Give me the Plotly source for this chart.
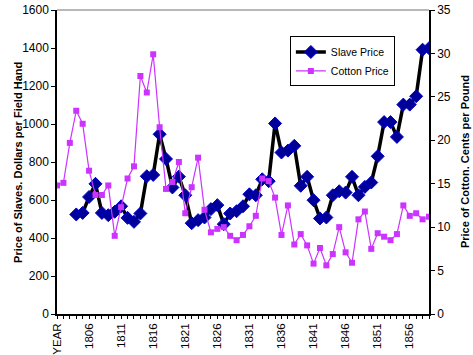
import plotly.graph_objects as go

categories = ["YEAR", "1802", "1803", "1804", "1805", "1806", "1807", "1808", "1809", "1810",
              "1811", "1812", "1813", "1814", "1815", "1816", "1817", "1818", "1819", "1820",
              "1821", "1822", "1823", "1824", "1825", "1826", "1827", "1828", "1829", "1830",
              "1831", "1832", "1833", "1834", "1835", "1836", "1837", "1838", "1839", "1840",
              "1841", "1842", "1843", "1844", "1845", "1846", "1847", "1848", "1849", "1850",
              "1851", "1852", "1853", "1854", "1855", "1856", "1857", "1858", "1859"]

slave_price = [None, None, None, 524, 532, 616, 685, 532, 520, 538,
               567, 506, 485, 529, 725, 732, 946, 816, 666, 723,
               625, 478, 494, 508, 552, 573, 473, 529, 541, 567,
               630, 625, 709, 699, 1003, 850, 860, 885, 675, 722,
               599, 503, 508, 625, 646, 639, 722, 625, 669, 692,
               830, 1010, 1010, 932, 1102, 1102, 1146, 1391, 1399]

cotton_price = [14.8, 15.1, 19.7, 23.4, 21.9, 16.5, 13.7, 13.7, 14.8, 9.0,
                12.3, 15.6, 17.0, 27.4, 25.5, 29.9, 21.5, 14.4, 15.2, 17.5,
                11.6, 14.6, 18.0, 12.0, 9.4, 9.8, 10.0, 9.0, 8.5, 9.1,
                10.1, 11.3, 15.6, 15.3, 13.4, 9.1, 12.5, 8.0, 9.2, 7.9,
                5.8, 7.6, 5.6, 6.9, 10.0, 7.1, 5.9, 10.9, 11.8, 7.5,
                9.3, 8.9, 8.5, 9.2, 12.5, 11.3, 11.6, 10.9, 11.2]

left_title = "Price of Slaves. Dollars per Field Hand"
right_title = "Price of Cotton. Cents per Pound"

label_every = 5
tick_text = [c if i % label_every == 0 else "" for i, c in enumerate(categories)]

FONT = "Arial, Liberation Sans, sans-serif"

fig = go.Figure()
fig.add_trace(go.Scatter(
    x=categories, y=slave_price, name="Slave Price", mode="lines+markers",
    line=dict(color="black", width=3.5),
    marker=dict(symbol="diamond", size=10, color="#000099",
                line=dict(color="#0000CC", width=1)),
    connectgaps=False,
))
fig.add_trace(go.Scatter(
    x=categories, y=cotton_price, name="Cotton Price", mode="lines+markers",
    yaxis="y2",
    line=dict(color="#CC33FF", width=1.2),
    marker=dict(symbol="square", size=6, color="#CC33FF"),
))

fig.update_layout(
    width=473, height=355,
    margin=dict(l=57, r=44, t=10, b=41, autoexpand=False),
    paper_bgcolor="white", plot_bgcolor="white",
    font=dict(family=FONT, size=12, color="black"),
    showlegend=True,
    legend=dict(x=0.626, y=0.913, xanchor="left", yanchor="top",
                bgcolor="white", bordercolor="black", borderwidth=1,
                font=dict(size=10.5, family=FONT), tracegroupgap=0,
                itemwidth=30),
    xaxis=dict(type="category", categoryorder="array", categoryarray=categories,
               range=[0, len(categories) - 1], automargin=False,
               tickmode="array", tickvals=categories, ticktext=tick_text,
               tickangle=-90, ticks="outside", ticklen=3, tickcolor="black",
               showline=True, linecolor="black", linewidth=1.5,
               showgrid=False, zeroline=False,
               tickfont=dict(size=11.5, family=FONT)),
    yaxis=dict(range=[0, 1600], dtick=200, ticks="outside", ticklen=4,
               tickcolor="black", showline=True, linecolor="black", linewidth=1.5,
               showgrid=False, zeroline=False, automargin=False,
               tickfont=dict(size=12, family=FONT)),
    yaxis2=dict(range=[0, 35], dtick=5, overlaying="y", side="right",
                ticks="outside", ticklen=4, tickcolor="black",
                showline=True, linecolor="black", linewidth=1.5,
                showgrid=False, zeroline=False, automargin=False,
                tickfont=dict(size=12, family=FONT)),
    shapes=[dict(type="line", xref="paper", yref="paper", x0=0, x1=1, y0=1, y1=1,
                 line=dict(color="#A0A0A0", width=1.5))],
    annotations=[
        dict(text="<b>" + left_title + "</b>", xref="paper", yref="paper",
             x=-0.105, y=0.5, xanchor="center", yanchor="middle", textangle=-90,
             showarrow=False, font=dict(size=11, family=FONT)),
        dict(text="<b>" + right_title + "</b>", xref="paper", yref="paper",
             x=1.097, y=0.5, xanchor="center", yanchor="middle", textangle=-90,
             showarrow=False, font=dict(size=11, family=FONT)),
    ],
)

fig.write_html("out.html", config={"displayModeBar": False},
               post_script="document.body.style.margin='0';document.body.style.padding='0';")
